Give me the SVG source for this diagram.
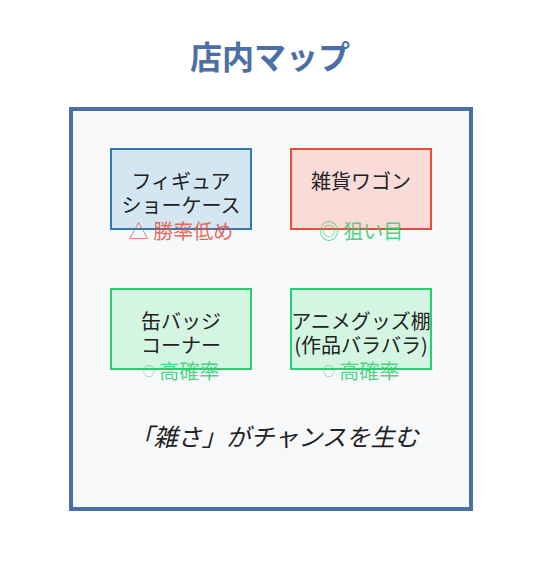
<svg xmlns="http://www.w3.org/2000/svg" width="552" height="565" viewBox="0 0 552 565">
<style>
text{font-family:"Noto Sans CJK JP","Noto Sans",sans-serif;text-anchor:middle}
.t{font-size:20px;fill:#222}
.title{font-size:32px;font-weight:bold;fill:#4a6fa5}
.lr{font-size:20px;fill:#e74c3c;fill-opacity:0.85}
.lg{font-size:20px;fill:#2ecc71;fill-opacity:0.85}
.sm{font-size:12px}
.foot{font-size:24.2px;font-style:italic;fill:#222}
</style>
<rect width="552" height="565" fill="#ffffff"/>
<text class="title" x="270" y="69">店内マップ</text>
<g id="map">
<rect x="71" y="109" width="400" height="400" fill="#f6f8fa" stroke="#4a6fa5" stroke-width="4"/>
</g>
<g id="connectors"></g>
<g id="figure">
<rect x="111" y="149" width="140" height="80" fill="#d4e6f1" stroke="#2e7ab8" stroke-width="2"/>
<text class="t" x="181" y="188.5">フィギュア</text>
<text class="t" x="181" y="212.5">ショーケース</text>
<text class="lr" x="181" y="238.5">△ 勝率低め</text>
</g>
<g id="wagon">
<rect x="291" y="149" width="140" height="80" fill="#fadbd8" stroke="#e74c3c" stroke-width="2"/>
<text class="t" x="361" y="188.5">雑貨ワゴン</text>
<text class="lg" x="361" y="238.5">◎ 狙い目</text>
</g>
<g id="badge">
<rect x="111" y="289" width="140" height="80" fill="#d5f5e3" stroke="#2ecc71" stroke-width="2"/>
<text class="t" x="181" y="328.5">缶バッジ</text>
<text class="t" x="181" y="352.5">コーナー</text>
<text class="lg" x="181" y="378.5"><tspan class="sm" dy="-3">○</tspan><tspan dy="3"> 高確率</tspan></text>
</g>
<g id="anime">
<rect x="291" y="289" width="140" height="80" fill="#d5f5e3" stroke="#2ecc71" stroke-width="2"/>
<text class="t" x="361" y="328.5">アニメグッズ棚</text>
<text class="t" x="361" y="352.5">(作品バラバラ)</text>
<text class="lg" x="361" y="378.5"><tspan class="sm" dy="-3">○</tspan><tspan dy="3"> 高確率</tspan></text>
</g>
<text class="foot" x="274" y="446">「雑さ」がチャンスを生む</text>
</svg>
